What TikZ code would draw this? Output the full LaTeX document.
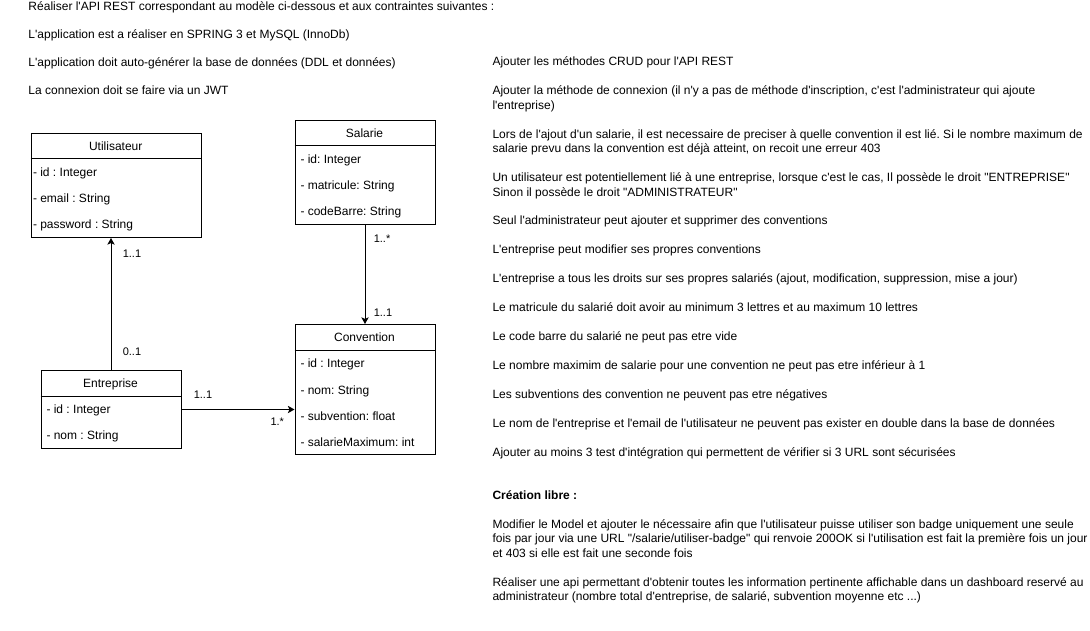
\documentclass[tikz,border=0pt]{standalone}
\usepackage{fontspec}
\setmainfont{Liberation Sans}[Ligatures=TeXOff]
\usetikzlibrary{arrows.meta}
\frenchspacing

\tikzset{every picture/.style={line width=0.75pt},
  txt/.style={inner sep=0pt, anchor=base west, align=left, font=\fontsize{9}{10.84}\selectfont},
  card/.style={inner sep=0pt, anchor=base west, font=\fontsize{8.25}{9.9}\selectfont},
  classbox/.style={draw, rectangle, inner sep=0pt, anchor=north west},
  assoc/.style={-{Stealth[length=5pt,width=5.5pt,inset=1.2pt]}}}

\begin{document}
\begin{tikzpicture}[x=0.75pt,y=0.75pt,yscale=-1,xscale=1]
\useasboundingbox (0,0) rectangle (1090,631);

%Shape: Class Utilisateur
\node [classbox, minimum width=127.875pt, minimum height=78pt] (utilisateur) at (30.5,133) {};
\draw (30.5,159) -- (201,159) ;
%Shape: Class Salarie
\node [classbox, minimum width=105pt, minimum height=78pt] (salarie) at (294.5,120) {};
\draw (294.5,146) -- (434.5,146) ;
%Shape: Class Convention
\node [classbox, minimum width=105pt, minimum height=97.5pt] (convention) at (294.5,324) {};
\draw (294.5,350) -- (434.5,350) ;
%Shape: Class Entreprise
\node [classbox, minimum width=105pt, minimum height=58.5pt] (entreprise) at (40.5,370) {};
\draw (40.5,396) -- (180.5,396) ;

%Straight Lines
\draw [assoc] (entreprise.north) -- (entreprise.north |- utilisateur.south) ;
%Straight Lines
\draw [assoc] (salarie.south) -- (convention.north) ;
%Straight Lines
\draw [assoc] (entreprise.east) -- (entreprise.east -| convention.west) ;

% Text Node
\draw (115.75,151) node [txt, anchor=base] (utilisateurTitre) {Utilisateur};
\draw (32.5,177) node [txt] (utilisateurId) {- id : Integer};
\draw (32.5,203) node [txt] (utilisateurEmail) {- email : String};
\draw (32.5,229) node [txt] (utilisateurPassword) {- password : String};
% Text Node
\draw (364.5,138) node [txt, anchor=base] (salarieTitre) {Salarie};
\draw (300,164) node [txt] (salarieId) {- id: Integer};
\draw (300,190) node [txt] (salarieMatricule) {- matricule: String};
\draw (300,216) node [txt] (salarieCode) {- codeBarre: String};
% Text Node
\draw (364.5,342) node [txt, anchor=base] (conventionTitre) {Convention};
\draw (300,368) node [txt] (conventionId) {- id : Integer};
\draw (300,394) node [txt] (conventionNom) {- nom: String};
\draw (300,420) node [txt] (conventionSub) {- subvention: float};
\draw (300,446) node [txt] (conventionMax) {- salarieMaximum: int};
% Text Node
\draw (110.5,387.5) node [txt, anchor=base] (entrepriseTitre) {Entreprise};
\draw (46,413.5) node [txt] (entrepriseId) {- id : Integer};
\draw (46,439.5) node [txt] (entrepriseNom) {- nom : String};

% Text Node
\draw (122.3,257.5) node [card] (cardUtilisateur) {1..1};
\draw (122.3,355) node [card] (cardEntrepriseHaut) {0..1};
\draw (373.3,242.5) node [card] (cardSalarie) {1..*};
\draw (373.3,316) node [card] (cardConventionHaut) {1..1};
\draw (193.3,398.3) node [card] (cardEntreprise) {1..1};
\draw (270,425.5) node [card] (cardConvention) {1.*};

% Text Node
\draw (28,10.5) node [txt] (intro) {Réaliser l'API REST correspondant au modèle ci-dessous et aux contraintes suivantes :};
\draw (28,38.6) node [txt] (techno) {L'application est a réaliser en SPRING 3 et MySQL (InnoDb)};
\draw (28,66.8) node [txt] (ddl) {L'application doit auto-générer la base de données (DDL et données)};
\draw (28,94.9) node [txt] (jwt) {La connexion doit se faire via un JWT};

% Text Node (multi-line nodes sit on their last baseline)
\draw (492,66) node [txt] (crud) {Ajouter les méthodes CRUD pour l'API REST};
\draw (492,109.35) node [txt] (connexion) {Ajouter la méthode de connexion (il n'y a pas de méthode d'inscription, c'est l'administrateur qui ajoute\\l'entreprise)};
\draw (492,152.7) node [txt] (ajoutSalarie) {Lors de l'ajout d'un salarie, il est necessaire de preciser à quelle convention il est lié. Si le nombre maximum de\\salarie prevu dans la convention est déjà atteint, on recoit une erreur 403};
\draw (492,196.05) node [txt] (droits) {Un utilisateur est potentiellement lié à une entreprise, lorsque c'est le cas, Il possède le droit "ENTREPRISE"\\Sinon il possède le droit "ADMINISTRATEUR"};
\draw (492,224.95) node [txt] (admin) {Seul l'administrateur peut ajouter et supprimer des conventions};
\draw (492,253.85) node [txt] (modifConvention) {L'entreprise peut modifier ses propres conventions};
\draw (492,282.75) node [txt] (droitsSalaries) {L'entreprise a tous les droits sur ses propres salariés (ajout, modification, suppression, mise a jour)};
\draw (492,311.65) node [txt] (matricule) {Le matricule du salarié doit avoir au minimum 3 lettres et au maximum 10 lettres};
\draw (492,340.55) node [txt] (codeBarre) {Le code barre du salarié ne peut pas etre vide};
\draw (492,369.45) node [txt] (maximum) {Le nombre maximim de salarie pour une convention ne peut pas etre inférieur à 1};
\draw (492,398.35) node [txt] (subvention) {Les subventions des convention ne peuvent pas etre négatives};
\draw (492,427.25) node [txt] (doublon) {Le nom de l'entreprise et l'email de l'utilisateur ne peuvent pas exister en double dans la base de données};
\draw (492,456.15) node [txt] (tests) {Ajouter au moins 3 test d'intégration qui permettent de vérifier si 3 URL sont sécurisées};

% Text Node
\draw (492,499.5) node [txt, font=\fontsize{9}{10.84}\selectfont\bfseries] (libre) {Création libre :};
\draw (492,557.3) node [txt] (badge) {Modifier le Model et ajouter le nécessaire afin que l'utilisateur puisse utiliser son badge uniquement une seule\\fois par jour via une URL "/salarie/utiliser-badge" qui renvoie 200OK si l'utilisation est fait la première fois un jour\\et 403 si elle est fait une seconde fois};
\draw (492,600.65) node [txt] (dashboard) {Réaliser une api permettant d'obtenir toutes les information pertinente affichable dans un dashboard reservé au\\administrateur (nombre total d'entreprise, de salarié, subvention moyenne etc ...)};

\end{tikzpicture}
\end{document}
